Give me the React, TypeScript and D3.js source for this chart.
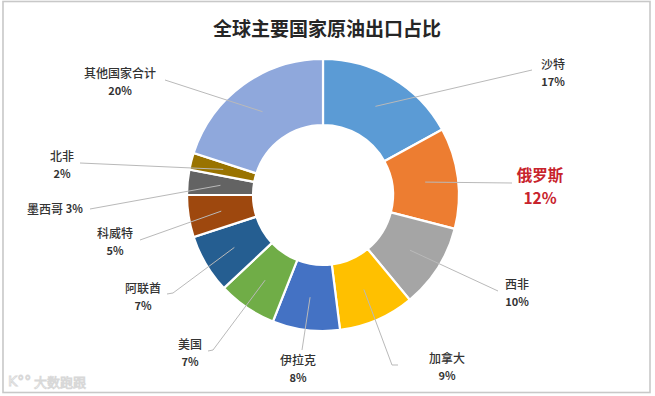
import React from "react";
import * as d3 from "d3";

const categories = ["沙特", "俄罗斯", "西非", "加拿大", "伊拉克", "美国", "阿联酋", "科威特", "墨西哥", "北非", "其他国家合计"];
const shares = [17, 12, 10, 9, 8, 7, 7, 5, 3, 2, 20];
const colors = ["#5B9BD5", "#ED7D31", "#A5A5A5", "#FFC000", "#4472C4", "#70AD47", "#255E91", "#9E480E", "#636363", "#997300", "#8FA8DC"];
const title = "全球主要国家原油出口占比";
const highlight = "俄罗斯";

const W = 655;
const H = 396;
const CX = 323;
const CY = 195;
const R_OUT = 136;
const R_IN = 70;

// label layout: name centre, leader end points, single-line flag
const layout: { x: number; y: number; pts: [number, number][]; inline?: boolean }[] = [
  { x: 553, y: 63, pts: [[532, 70]] },
  { x: 540, y: 174, pts: [[512, 183]] },
  { x: 517, y: 283, pts: [[498, 291]] },
  { x: 447, y: 357, pts: [[392, 365], [398, 365]] },
  { x: 298, y: 359, pts: [[302, 350]] },
  { x: 190, y: 343, pts: [[213, 350], [208, 351]] },
  { x: 143, y: 287, pts: [[173, 293], [167, 294]] },
  { x: 115, y: 232, pts: [[140, 240]] },
  { x: 55, y: 208, pts: [[90, 209]], inline: true },
  { x: 62, y: 155, pts: [[80, 163]] },
  { x: 120, y: 72, pts: [[165, 80]] },
];

export default function App() {
  const pie = d3.pie<number>().sort(null).value((d) => d);
  const arcs = pie(shares);
  const arc = d3.arc<d3.PieArcDatum<number>>().innerRadius(R_IN).outerRadius(R_OUT);
  const line = d3.line();
  const font = "'Noto Sans CJK SC', 'Noto Sans', sans-serif";

  return (
    <svg width={W} height={H} style={{ position: "absolute", left: 0, top: 0, background: "#fff" }} fontFamily={font}>
      <rect x={0} y={0} width={W} height={H} fill="#fff" />
      <rect x={3} y={1.5} width={647} height={391} fill="none" stroke="#c8c8c8" strokeWidth={1.6} />
      <text x={327} y={27} textAnchor="middle" dominantBaseline="central" fontSize={19} fontWeight={700} fill="#262626">
        {title}
      </text>
      <g transform={`translate(${CX},${CY})`}>
        {arcs.map((a, i) => (
          <path key={i} d={arc(a) || ""} fill={colors[i]} stroke="#fff" strokeWidth={2.2} />
        ))}
      </g>
      {arcs.map((a, i) => {
        const [mx, my] = arc.centroid(a);
        const pts: [number, number][] = [[CX + mx, CY + my], ...layout[i].pts];
        return <path key={i} d={line(pts) || ""} fill="none" stroke="#b9b9b9" strokeWidth={1} />;
      })}
      {categories.map((c, i) => {
        const L = layout[i];
        const isHi = c === highlight;
        if (L.inline) {
          return (
            <text key={i} x={L.x} y={L.y} textAnchor="middle" dominantBaseline="central" fill="#333">
              <tspan fontSize={12} fontWeight={500}>{c} </tspan>
              <tspan fontSize={11} fontWeight={700}>{shares[i]}%</tspan>
            </text>
          );
        }
        return (
          <g key={i}>
            <text x={L.x} y={L.y} textAnchor="middle" dominantBaseline="central" fontSize={isHi ? 15.5 : 12} fontWeight={isHi ? 700 : 500} fill={isHi ? "#C8232C" : "#333"}>
              {c}
            </text>
            <text x={L.x} y={L.y + (isHi ? 23 : 18)} textAnchor="middle" dominantBaseline="central" fontSize={isHi ? 15.5 : 11} fontWeight={700} fill={isHi ? "#C8232C" : "#333"}>
              {shares[i]}%
            </text>
          </g>
        );
      })}
      <g opacity={0.8}>
        <text x={8} y={381} dominantBaseline="central" fontSize={14} fill="#fff" stroke="#cfcfcf" strokeWidth={0.9} fontFamily="'DejaVu Sans', sans-serif">
          K°°
        </text>
        <text x={34} y={381} dominantBaseline="central" fontSize={13} fill="#fff" stroke="#cfcfcf" strokeWidth={0.9}>
          大数跑跟
        </text>
      </g>
    </svg>
  );
}
